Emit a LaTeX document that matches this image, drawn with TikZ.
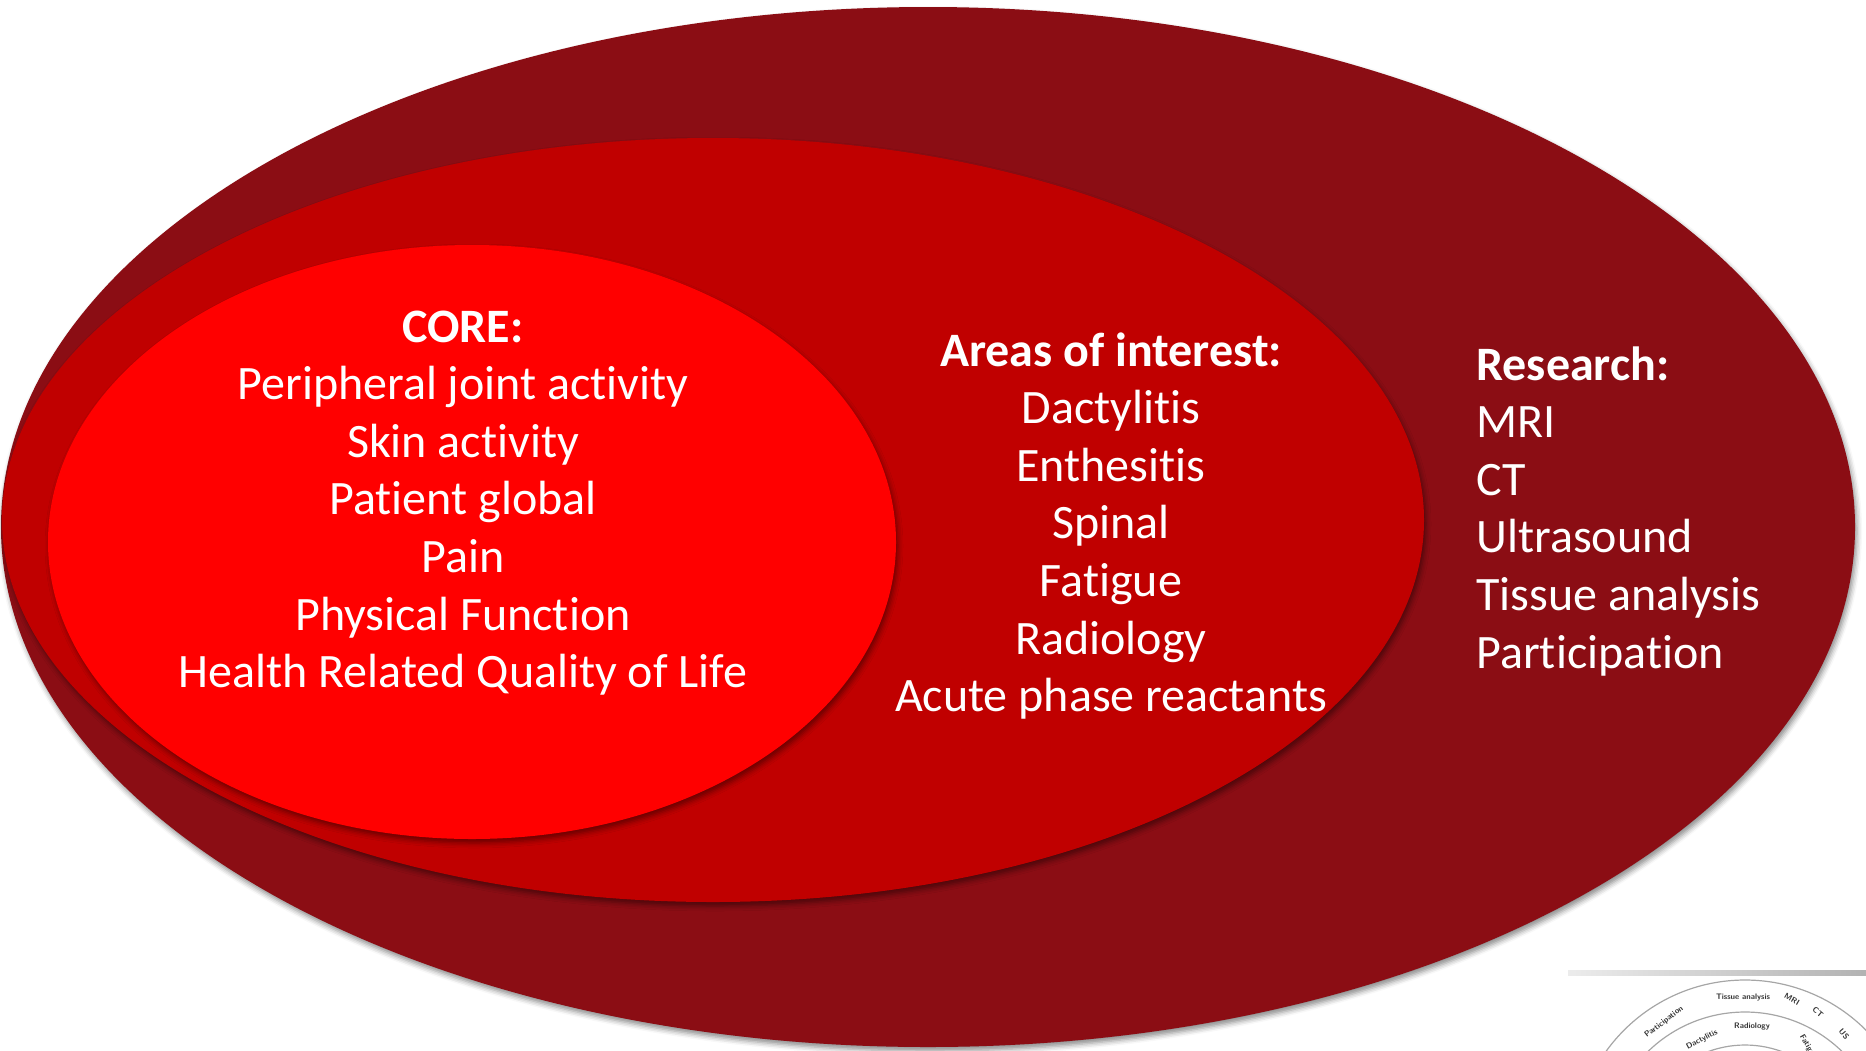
\documentclass[tikz,border=0pt]{standalone}
\usepackage{fontspec}
\setmainfont{Carlito}[Ligatures=NoCommon]
\usetikzlibrary{shadows.blur}
\definecolor{outerred}{HTML}{8B0D14}
\definecolor{midred}{HTML}{C00000}
\definecolor{corered}{HTML}{FF0000}

\tikzset{
	layer/.style={blur shadow={shadow xshift=1pt,shadow yshift=-2pt,shadow blur radius=2.5pt,shadow opacity=45}},
	head/.style={text=white,font=\fontsize{24}{28.8}\selectfont\bfseries,inner sep=0pt},
	entry/.style={text=white,font=\fontsize{24}{28.8}\selectfont,inner sep=0pt},
	tiny/.style={font=\sffamily\bfseries\fontsize{4}{5}\selectfont,text=black!80,inner sep=0pt}
}

\begin{document}
\begin{tikzpicture}[x=0.5pt,y=0.5pt]
	\useasboundingbox (0,0) rectangle (1866,-1050);
	% the three layers
	\fill[outerred,layer] (928,-527) ellipse [x radius=927,y radius=520];
	\fill[midred,layer] (713,-520) ellipse [x radius=711,y radius=382];
	\fill[corered,layer] (472,-542) ellipse [x radius=424,y radius=297];

	\node[head,anchor=base] (core) at (463,-342) {CORE:};
	\foreach \t [count=\i] in {Peripheral joint activity,Skin activity,Patient global,Pain,Physical Function,Health Related Quality of Life}
		\node[entry,anchor=base] (core\i) at (463,-342-57.6*\i) {\t};

	\node[head,anchor=base] (interest) at (1111,-366) {Areas of interest:};
	\foreach \t [count=\i] in {Dactylitis,Enthesitis,Spinal,Fatigue,Radiology,Acute phase reactants}
		\node[entry,anchor=base] (interest\i) at (1111,-366-57.6*\i) {\t};

	\node[head,anchor=base west] (research) at (1476,-380) {Research:};
	\foreach \t [count=\i] in {MRI,CT,Ultrasound,Tissue analysis,Participation}
		\node[entry,anchor=base west] (research\i) at (1476,-380-57.6*\i) {\t};

	% small picture in the corner
	\shade[left color=gray!15,right color=gray!60] (1568,-970) rectangle (1866,-975);
	\begin{scope}
		\clip (1568,-975) rectangle (1866,-1050);
		\foreach \r in {171,139,106}
			\draw[gray!70,line width=0.6pt] (1745,-1151) circle [radius=\r];
		\node[tiny] (ta) at (1743,-998) {Tissue analysis};
		\node[tiny,rotate=-30] (mri) at (1792,-999) {MRI};
		\node[tiny,rotate=-40] (ct) at (1818,-1012) {CT};
		\node[tiny,rotate=-50] (us) at (1844,-1034) {US};
		\node[tiny,rotate=38] (pa) at (1664,-1022) {Participation};
		\node[tiny,rotate=28] (da) at (1702,-1040) {Dactylitis};
		\node[tiny] (ra) at (1752,-1027) {Radiology};
		\node[tiny,rotate=-60] (fa) at (1808,-1047) {Fatigue};
	\end{scope}
\end{tikzpicture}
\end{document}
